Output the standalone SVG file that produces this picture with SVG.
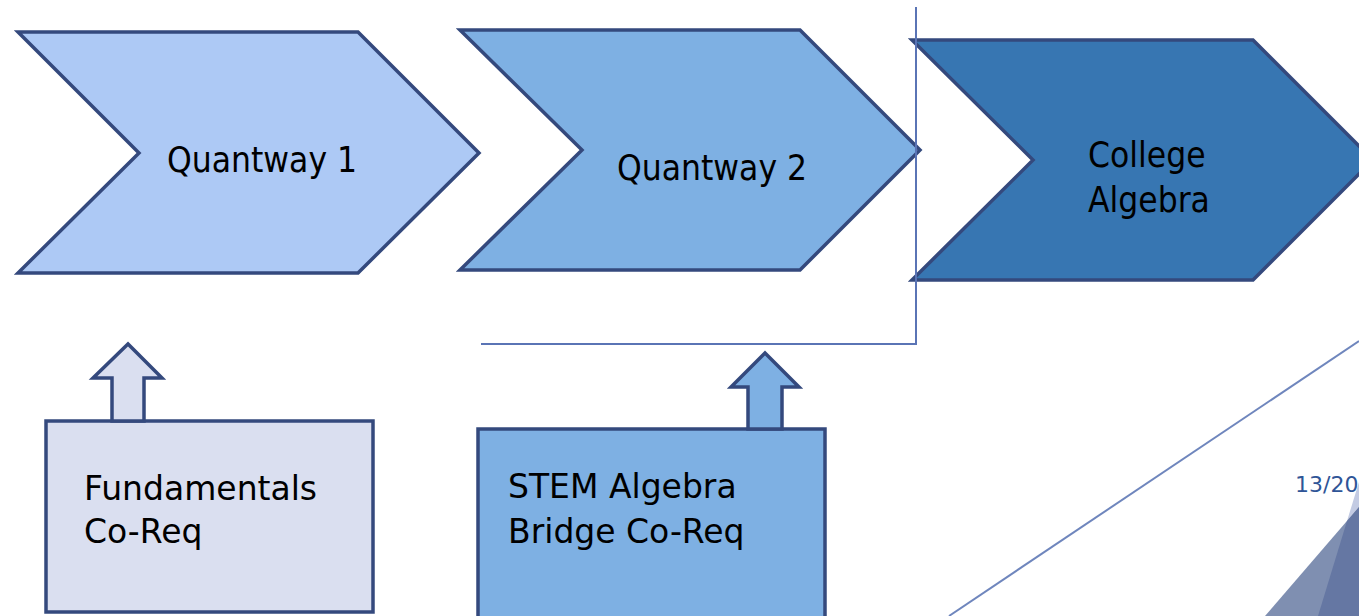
<svg xmlns="http://www.w3.org/2000/svg" width="1359" height="616" viewBox="0 0 1359 616">
<style>
.shape{stroke:#34497d;stroke-width:3.5;stroke-linejoin:miter}
.lbl{font-family:"DejaVu Sans","Liberation Sans",sans-serif;fill:#000}
.chev{font-size:35px;font-stretch:condensed}
.box{font-size:33px}
.line{stroke:#5a74b5;stroke-width:2;fill:none}
</style>
<rect width="1359" height="616" fill="#ffffff"/>
<g id="decoration">
<line x1="949" y1="616" x2="1359" y2="341" stroke="#6f86bd" stroke-width="2"/>
<polygon points="1347,521 1359,482 1359,507" fill="#c3cbe3"/>
<polygon points="1265,616 1359,507 1359,616" fill="#7f8fb1"/>
<polygon points="1318,616 1347,521 1359,507 1359,616" fill="#6577a3"/>
<text x="1295" y="492" font-family="DejaVu Sans,sans-serif" font-size="22" fill="#2f5597">13/20</text>
</g>
<g id="node-quantway1">
<polygon class="shape" points="18,32 358,32 479,153 358,273 18,273 139,153" fill="#adc9f5"/>
<text class="lbl chev" x="167" y="172">Quantway 1</text>
</g>
<g id="node-quantway2">
<polygon class="shape" points="460,30 800,30 920,150 800,270 460,270 582,150" fill="#7eb0e3"/>
<text class="lbl chev" x="617" y="180">Quantway 2</text>
</g>
<g id="node-college-algebra">
<polygon class="shape" points="912,40 1253,40 1373,160 1253,280 912,280 1033,160" fill="#3776b2"/>
<text class="lbl chev" x="1088" y="167">College</text>
<text class="lbl chev" x="1088" y="212">Algebra</text>
</g>
<g id="node-fundamentals">
<rect class="shape" x="46" y="421" width="327" height="191" fill="#dadff0"/>
<text class="lbl box" x="84" y="500">Fundamentals</text>
<text class="lbl box" x="84" y="543">Co-Req</text>
</g>
<g id="node-stem-bridge">
<rect class="shape" x="478" y="429" width="347" height="200" fill="#7eb0e3"/>
<text class="lbl box" x="508" y="498">STEM Algebra</text>
<text class="lbl box" x="508" y="543">Bridge Co-Req</text>
</g>
<g id="connectors">
<polygon class="shape" points="112,421 112,378 93,378 128,344 162,378 144,378 144,421" fill="#dadff0"/>
<polygon class="shape" points="748,429 748,387 731,387 765,353 799,387 782,387 782,429" fill="#7eb0e3"/>
<polyline class="line" points="916,7 916,344 481,344"/>
</g>
</svg>
